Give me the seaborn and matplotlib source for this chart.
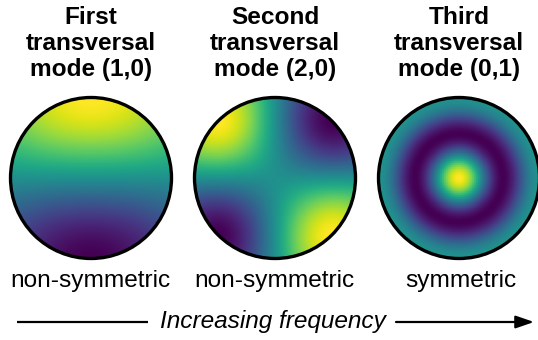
import numpy as np
import seaborn as sns
import matplotlib
matplotlib.use("Agg")
import matplotlib.pyplot as plt
from matplotlib.patches import Circle, FancyArrowPatch

# Mode descriptions
titles = [
    ["First", "transversal", "mode (1,0)"],
    ["Second", "transversal", "mode (2,0)"],
    ["Third", "transversal", "mode (0,1)"],
]
symmetry = ["non-symmetric", "non-symmetric", "symmetric"]
angular_order = [1, 2, 0]              # number of nodal diameters
radial_root = [1.841, 3.054, 7.016]    # roots of J_m'(k) = 0 (free-edge membrane)
orientation = [1, -1, 1]               # sign of the angular factor
axis_label = "Increasing frequency"

sns.set_theme(style="white")
plt.rcParams["font.family"] = ["Liberation Sans", "DejaVu Sans"]

W, H = 538, 340
fig = plt.figure(figsize=(W / 100, H / 100), dpi=100)

centers_x = [91, 275, 459]
center_y = 178
radius_px = 80.5
N = 240


def bessel_j(n, x):
    """Bessel function of the first kind via its integral representation."""
    tau = np.linspace(0, np.pi, 401)
    vals = np.cos(n * tau[:, None] - x[None, :] * np.sin(tau)[:, None])
    return np.trapezoid(vals, tau, axis=0) / np.pi


coords = (np.arange(N) + 0.5) / N * 2 - 1
X, Y = np.meshgrid(coords, -coords)
R = np.hypot(X, Y)
TH = np.arctan2(Y, X)
outside = R > 1.0
r_table = np.linspace(0, 1.5, 3001)

for i in range(3):
    m, k, s = angular_order[i], radial_root[i], orientation[i]
    radial = np.interp(R, r_table, bessel_j(m, k * r_table))
    field = radial * (s * np.sin(m * TH) if m > 0 else 1.0)

    ax = fig.add_axes([(centers_x[i] - radius_px) / W,
                       (H - center_y - radius_px) / H,
                       2 * radius_px / W, 2 * radius_px / H])
    sns.heatmap(field, mask=outside, cmap="viridis", cbar=False,
                xticklabels=False, yticklabels=False, ax=ax,
                rasterized=True)
    ax.add_patch(Circle((N / 2, N / 2), N / 2, fill=False, ec="black",
                        lw=2.4, clip_on=False, zorder=5))
    ax.set_aspect("equal")
    ax.axis("off")

# Overlay in pixel coordinates for the texts and the arrow
ov = fig.add_axes([0, 0, 1, 1])
ov.set_xlim(0, W)
ov.set_ylim(H, 0)
ov.axis("off")

for i in range(3):
    for j, line in enumerate(titles[i]):
        ov.text(centers_x[i], 24 + 26 * j, line, ha="center", va="baseline",
                fontsize=17.6, fontweight="bold", color="black")

label_x = [90, 274, 461]
for i in range(3):
    ov.text(label_x[i], 287, symmetry[i], ha="center", va="baseline",
            fontsize=17.6, color="black")

ov.text(273, 328, axis_label, ha="center", va="baseline", fontsize=17.6,
        style="italic", color="black")
ov.plot([17, 148], [322, 322], color="black", lw=1.6, solid_capstyle="butt")
ov.add_patch(FancyArrowPatch((396, 322), (534, 322),
                             arrowstyle="-|>,head_length=1.1,head_width=0.38",
                             mutation_scale=10, color="black", lw=1.6,
                             shrinkA=0, shrinkB=0))

fig.savefig("out.png", dpi=100)
